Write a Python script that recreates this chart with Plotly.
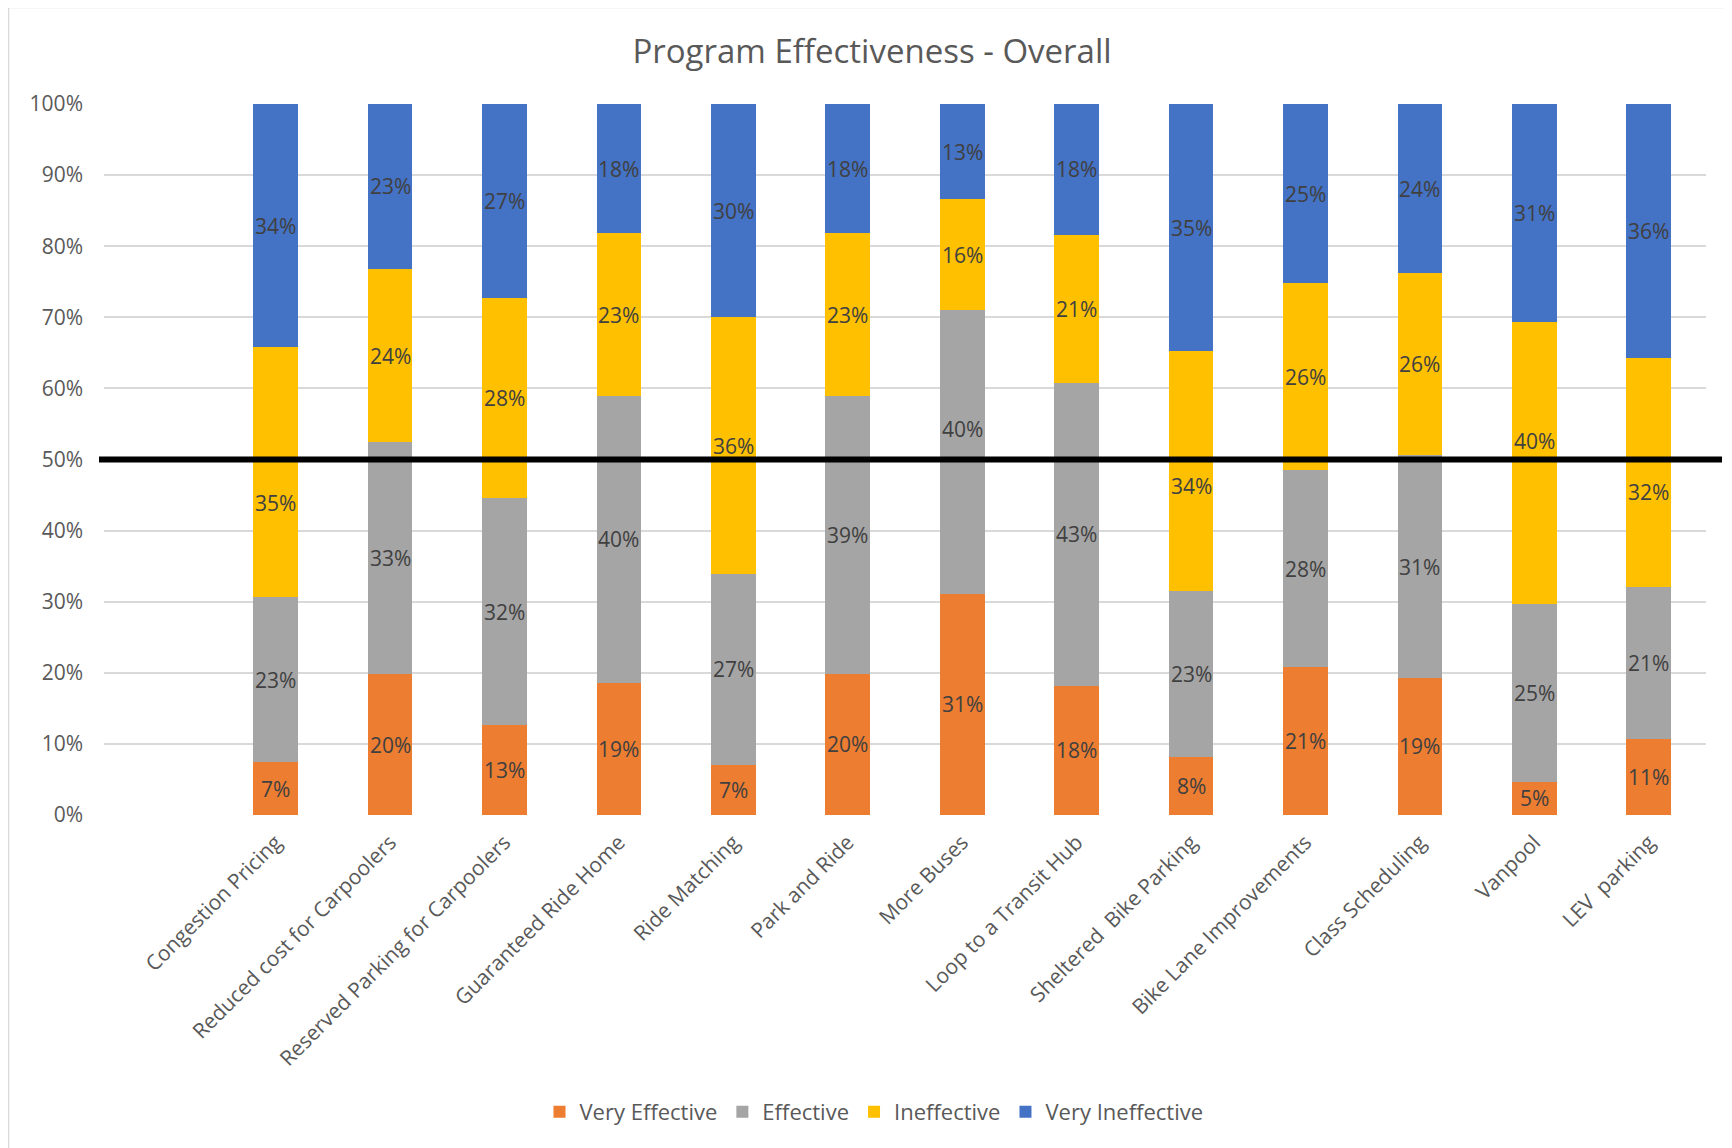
import plotly.graph_objects as go

categories = ["Congestion Pricing", "Reduced cost for Carpoolers", "Reserved Parking for Carpoolers",
              "Guaranteed Ride Home", "Ride Matching", "Park and Ride", "More Buses",
              "Loop to a Transit Hub", "Sheltered  Bike Parking", "Bike Lane Improvements",
              "Class Scheduling", "Vanpool", "LEV  parking"]

very_effective = [7.4, 19.8, 12.6, 18.6, 7.1, 19.9, 31.1, 18.2, 8.1, 20.8, 19.3, 4.7, 10.7]
effective = [23.3, 32.6, 32.0, 40.3, 26.8, 39.0, 39.9, 42.6, 23.4, 27.7, 31.3, 25.0, 21.4]
ineffective = [35.1, 24.4, 28.1, 22.9, 36.1, 22.9, 15.6, 20.8, 33.7, 26.3, 25.6, 39.6, 32.2]
very_ineffective = [34.2, 23.2, 27.3, 18.2, 30.0, 18.2, 13.4, 18.4, 34.8, 25.2, 23.8, 30.7, 35.7]

series_names = ["Very Effective", "Effective", "Ineffective", "Very Ineffective"]
series_values = [very_effective, effective, ineffective, very_ineffective]
series_colors = ["#ED7D31", "#A5A5A5", "#FFC000", "#4472C4"]

y_ticks = [0, 10, 20, 30, 40, 50, 60, 70, 80, 90, 100]
threshold = 50

# label nudges (in % units) where labels were moved off the threshold line
label_nudge = {(2, 0): -4.4, (2, 8): -2.1, (2, 11): 3.1, (2, 12): -2.7, (1, 6): 3.3}

FONT = "Open Sans"
TXT = "#595959"
x_pos = list(range(len(categories)))

fig = go.Figure()
for name, vals, col in zip(series_names, series_values, series_colors):
    fig.add_trace(go.Bar(x=x_pos, y=vals, name=name, marker=dict(color=col, line=dict(width=0)),
                         width=0.39, hoverinfo="y+name"))

annotations = []
base = [0.0] * len(categories)
for si, vals in enumerate(series_values):
    for ci, v in enumerate(vals):
        yc = base[ci] + v / 2 + label_nudge.get((si, ci), 0)
        annotations.append(dict(x=ci, y=yc, xref="x", yref="y", text=f"{v:.0f}%", showarrow=False,
                                font=dict(family=FONT, size=21, color="#404040")))
        base[ci] += v

# page coordinates (the page body adds an 8px offset)
OFF = 8
L, R, T, B = 104, 1706, 104, 815
W, H = 1724, 1140
pw, ph = R - L, B - T

def px_x(p):
    return (p - L) / pw

def px_y(p):
    return (B - p) / ph

shapes = [
    dict(type="line", xref="paper", yref="y", x0=px_x(99), x1=px_x(1722), y0=threshold, y1=threshold,
         line=dict(color="black", width=6), layer="above"),
    dict(type="line", xref="paper", yref="paper", x0=px_x(8), x1=px_x(8), y0=px_y(6), y1=px_y(1160),
         line=dict(color="#D9D9D9", width=2.5)),
    dict(type="line", xref="paper", yref="paper", x0=px_x(8), x1=px_x(1760), y0=px_y(7), y1=px_y(7),
         line=dict(color="#D9D9D9", width=2.5)),
]

fig.update_layout(
    width=W, height=H,
    margin=dict(l=L - OFF, r=W + OFF - R, t=T - OFF, b=H + OFF - B),
    paper_bgcolor="white", plot_bgcolor="white",
    barmode="stack", bargap=0,
    title=dict(text="Program Effectiveness - Overall", x=(872 - OFF) / W, xref="container", xanchor="center",
               y=1 - (51 - OFF) / H, yref="container", yanchor="middle",
               font=dict(family=FONT, size=33, color=TXT)),
    font=dict(family=FONT, color=TXT),
    showlegend=True,
    legend=dict(orientation="h", x=px_x(874), xanchor="center", y=px_y(1112), yanchor="middle",
                font=dict(family=FONT, size=22, color=TXT), traceorder="normal",
                itemclick=False, itemdoubleclick=False),
    annotations=annotations,
    shapes=shapes,
)
fig.update_xaxes(range=[-1.5, len(categories) - 0.5], tickmode="array", tickvals=x_pos, ticktext=categories,
                 tickangle=-45, tickfont=dict(family=FONT, size=21, color=TXT), showgrid=False,
                 zeroline=False, showline=False, ticks="", ticklabelstandoff=10)
fig.update_yaxes(range=[0, 100], tickmode="array", tickvals=y_ticks, ticktext=[f"{t}%" for t in y_ticks],
                 tickfont=dict(family=FONT, size=21, color=TXT), showgrid=True, gridcolor="#D9D9D9",
                 gridwidth=2, zeroline=False, showline=False, ticks="", ticklabelstandoff=20)

fig.write_html("out.html")
